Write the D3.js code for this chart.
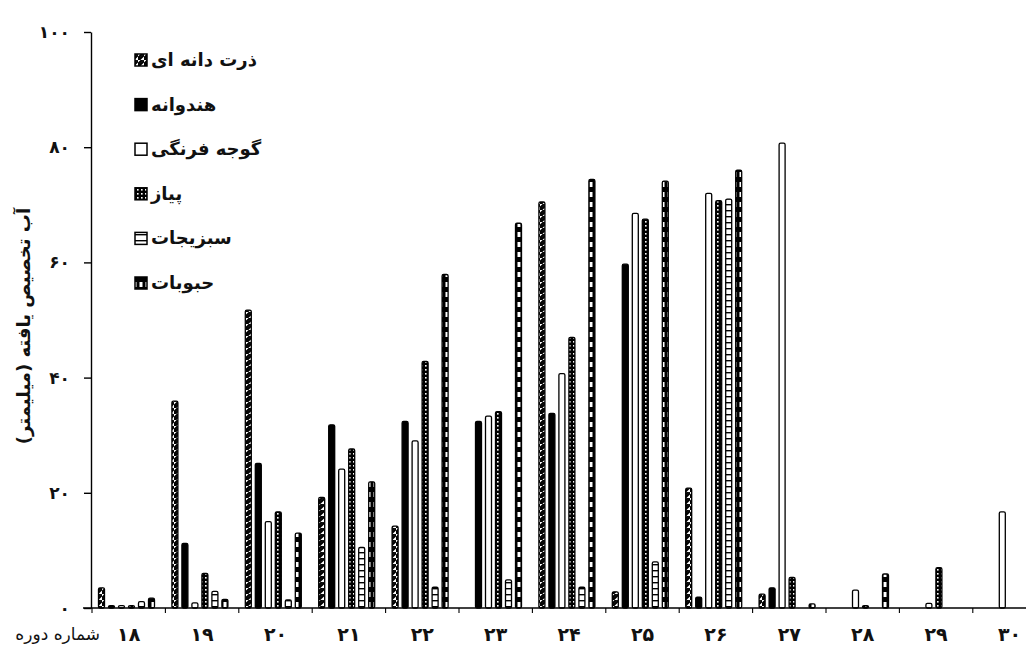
<!DOCTYPE html>
<html><head><meta charset="utf-8">
<script src="https://cdn.jsdelivr.net/npm/d3@7/dist/d3.min.js"></script>
<style>
html,body{margin:0;padding:0;background:#fff;}
svg text{font-family:"DejaVu Sans",sans-serif;fill:#111;}
</style></head>
<body><svg id="chart" width="1026" height="648"></svg>
<script>
const periods = [18,19,20,21,22,23,24,25,26,27,28,29,30];
const seriesNames = ["ذرت دانه ای","هندوانه","گوجه فرنگی","پیاز","سبزیجات","حبوبات"];
const corn       = [3.5, 35.9, 51.7, 19.2, 14.2, 0,    70.5, 2.8,  20.8, 2.4,  0,   0,   0];
const watermelon = [0.4, 11.2, 25.1, 31.8, 32.4, 32.4, 33.8, 59.7, 1.9,  3.5,  0,   0,   0];
const tomato     = [0.4, 0.9,  15.0, 24.1, 29.0, 33.3, 40.7, 68.5, 72.0, 80.7, 3.1, 0.8, 16.7];
const onion      = [0.4, 6.0,  16.7, 27.6, 42.8, 34.1, 47.0, 67.5, 70.7, 5.3,  0.4, 7.0, 0];
const vegetables = [1.1, 2.9,  1.4,  10.5, 3.6,  4.9,  3.6,  8.0,  71.0, 0,    0,   0,   0];
const legumes    = [1.7, 1.5,  13.0, 21.9, 57.9, 66.8, 74.4, 74.1, 76.0, 0.7,  5.9, 0,   0];
const yTicks = [0,20,40,60,80,100];
const yTitle = "آب تخصیص یافته (میلیمتر)";
const xTitle = "شماره دوره";

const seriesValues = [corn, watermelon, tomato, onion, vegetables, legumes];
const fa = d => String(d).replace(/\d/g, c => "۰۱۲۳۴۵۶۷۸۹"[+c]);

const svg = d3.select("#chart");
const defs = svg.append("defs");

function pat(id, w, h, bg, draw){
  const p = defs.append("pattern").attr("id", id).attr("patternUnits","userSpaceOnUse")
    .attr("width", w).attr("height", h);
  p.append("rect").attr("width", w).attr("height", h).attr("fill", bg);
  draw(p);
}
pat("p-corn", 6, 6, "#fff", p => {
  p.append("path").attr("d","M-1,5 L5,-1 M0,7 L7,0").attr("stroke","#000").attr("stroke-width",2);
});
pat("p-onion", 4, 4, "#000", p => {
  p.append("rect").attr("x",1).attr("y",1).attr("width",1.6).attr("height",1.6).attr("fill","#fff");
});
pat("p-veg", 4, 6, "#fff", p => {
  p.append("rect").attr("x",0).attr("y",0).attr("width",4).attr("height",1.4).attr("fill","#000");
});
pat("p-leg", 6, 10, "#000", p => {
  p.append("rect").attr("x",1.5).attr("y",2).attr("width",3).attr("height",5).attr("fill","#fff");
});
const fills = ["url(#p-corn)", "#000", "#fff", "url(#p-onion)", "url(#p-veg)", "url(#p-leg)"];

const x0 = d3.scaleBand().domain(periods).range([92, 1046.2]).paddingInner(0).paddingOuter(0);
const x1 = d3.scaleBand().domain(d3.range(seriesNames.length)).range([4.5, 64.5]).paddingInner(0.4).paddingOuter(0.2);
const y = d3.scaleLinear().domain([0,100]).range([608, 32]);

const g = svg.append("g");
periods.forEach((p, pi) => {
  seriesValues.forEach((vals, si) => {
    const v = vals[pi];
    if (!v) return;
    g.append("rect")
      .attr("x", x0(p) + x1(si))
      .attr("y", y(v))
      .attr("width", x1.bandwidth())
      .attr("height", y(0) - y(v))
      .attr("rx", 1.5)
      .attr("fill", fills[si])
      .attr("stroke", "#000")
      .attr("stroke-width", 1.3);
  });
});

const yAxis = d3.axisLeft(y).tickValues(yTicks).tickSize(7).tickSizeOuter(0).tickFormat(fa).tickPadding(14);
const ya = svg.append("g").attr("transform","translate(91,0)").call(yAxis);
ya.select(".domain").attr("stroke","#000").attr("stroke-width",1.4);
ya.selectAll(".tick line").attr("stroke","#000").attr("stroke-width",1.4);
ya.selectAll(".tick text").attr("font-size",17).attr("font-weight","bold").attr("font-family","DejaVu Sans");

const xa = svg.append("g");
xa.append("line").attr("x1",83).attr("x2",1026).attr("y1",y(0)).attr("y2",y(0))
  .attr("stroke","#000").attr("stroke-width",1.4);
xa.selectAll("line.tk").data(periods).join("line").attr("class","tk")
  .attr("x1", d => x0(d)).attr("x2", d => x0(d))
  .attr("y1", y(0)).attr("y2", y(0) + 5).attr("stroke","#000").attr("stroke-width",1.1);
xa.selectAll("text.lbl").data(periods).join("text").attr("class","lbl")
  .attr("x", d => x0(d) + x0.bandwidth()/2).attr("y", 641)
  .attr("text-anchor","middle").attr("font-size",19).attr("font-weight","bold").text(fa);
svg.append("text").attr("x", 100).attr("y", 640).attr("text-anchor","end")
  .attr("font-size",17).text(xTitle);

svg.append("text").attr("transform","translate(30,326) rotate(-90)")
  .attr("text-anchor","middle").attr("font-size",18).attr("font-weight","bold").text(yTitle);

const leg = svg.append("g");
seriesNames.forEach((name, i) => {
  const cy = 60 + i * 44.6;
  leg.append("rect").attr("x",135).attr("y",cy-6).attr("width",12).attr("height",12)
    .attr("fill", fills[i]).attr("stroke","#000").attr("stroke-width",1.5);
  leg.append("text").attr("x",151).attr("y",cy+6).attr("font-size",18).attr("font-weight","bold")
    .attr("text-anchor","start").text(name);
});
</script></body></html>
